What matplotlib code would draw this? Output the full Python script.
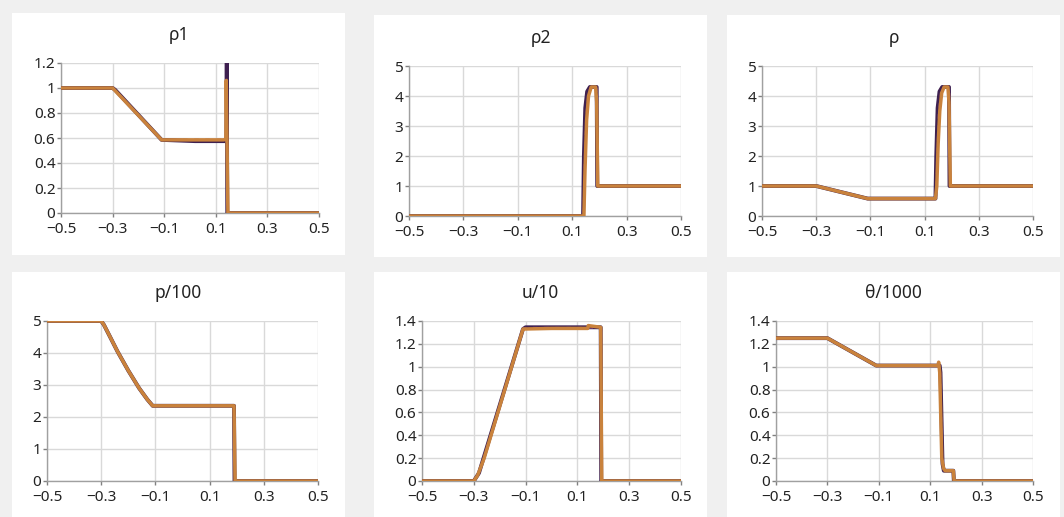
import matplotlib
matplotlib.use("Agg")
import matplotlib.pyplot as plt
from matplotlib.patches import Rectangle
from matplotlib.ticker import FuncFormatter

plt.rcParams['font.family'] = ['Noto Sans', 'DejaVu Sans']

# ---------------- data ----------------
titles = ["ρ1", "ρ2", "ρ", "p/100", "u/10", "θ/1000"]
x_ticks = [-0.5, -0.3, -0.1, 0.1, 0.3, 0.5]
y_ticks_rho1 = [0, 0.2, 0.4, 0.6, 0.8, 1, 1.2]
y_ticks_rho2 = [0, 1, 2, 3, 4, 5]
y_ticks_rho = [0, 1, 2, 3, 4, 5]
y_ticks_p = [0, 1, 2, 3, 4, 5]
y_ticks_u = [0, 0.2, 0.4, 0.6, 0.8, 1, 1.2, 1.4]
y_ticks_theta = [0, 0.2, 0.4, 0.6, 0.8, 1, 1.2, 1.4]

# dark series (reference solution)
rho1_dark_x = [-0.5, -0.3, -0.29, -0.11, 0.02, 0.141, 0.1425, 0.1445, 0.5]
rho1_dark_y = [1, 1, 0.985, 0.585, 0.575, 0.575, 1.25, 0, 0]
rho2_dark_x = [-0.5, 0.14, 0.143, 0.148, 0.155, 0.165, 0.19, 0.192, 0.5]
rho2_dark_y = [0, 0, 2.0, 3.6, 4.15, 4.3, 4.3, 1, 1]
rho_dark_x = [-0.5, -0.3, -0.11, 0.14, 0.143, 0.148, 0.155, 0.165, 0.19, 0.192, 0.5]
rho_dark_y = [1, 1, 0.58, 0.58, 2.0, 3.6, 4.15, 4.3, 4.3, 1, 1]
p_dark_x = [-0.5, -0.3, -0.29, -0.27, -0.24, -0.2, -0.16, -0.13, -0.11, 0.19, 0.192, 0.5]
p_dark_y = [5, 5, 4.88, 4.55, 4.05, 3.45, 2.9, 2.55, 2.35, 2.35, 0, 0]
u_dark_x = [-0.5, -0.3, -0.28, -0.11, -0.1, 0.19, 0.192, 0.5]
u_dark_y = [0, 0, 0.07, 1.33, 1.345, 1.345, 0, 0]
theta_dark_x = [-0.5, -0.3, -0.11, 0.137, 0.14, 0.148, 0.153, 0.19, 0.192, 0.5]
theta_dark_y = [1.25, 1.25, 1.01, 1.01, 0.95, 0.15, 0.09, 0.09, 0, 0]

# dashed series (intermediate resolution)
rho1_mid_x = [-0.5, -0.3, -0.11, 0.141, 0.142, 0.146, 0.5]
rho1_mid_y = [1, 1, 0.585, 0.585, 1.1, 0, 0]
rho2_mid_x = [-0.5, 0.142, 0.146, 0.152, 0.16, 0.168, 0.191, 0.194, 0.5]
rho2_mid_y = [0, 0, 1.8, 3.4, 4.1, 4.3, 4.3, 1, 1]
rho_mid_x = [-0.5, -0.3, -0.11, 0.142, 0.146, 0.152, 0.16, 0.168, 0.191, 0.194, 0.5]
rho_mid_y = [1, 1, 0.58, 0.58, 1.8, 3.4, 4.1, 4.3, 4.3, 1, 1]
p_mid_x = [-0.5, -0.3, -0.29, -0.27, -0.24, -0.2, -0.16, -0.13, -0.11, 0.191, 0.194, 0.5]
p_mid_y = [5, 5, 4.88, 4.55, 4.05, 3.45, 2.9, 2.55, 2.35, 2.35, 0, 0]
u_mid_x = [-0.5, -0.3, -0.28, -0.11, -0.1, 0.191, 0.194, 0.5]
u_mid_y = [0, 0, 0.07, 1.33, 1.34, 1.34, 0, 0]
theta_mid_x = [-0.5, -0.3, -0.11, 0.136, 0.139, 0.147, 0.153, 0.191, 0.194, 0.5]
theta_mid_y = [1.25, 1.25, 1.01, 1.01, 0.95, 0.15, 0.09, 0.09, 0, 0]

# orange series (numerical solution)
rho1_num_x = [-0.5, -0.3, -0.11, 0.13, 0.139, 0.1405, 0.147, 0.5]
rho1_num_y = [1, 1, 0.585, 0.585, 0.59, 1.06, 0, 0]
rho2_num_x = [-0.5, 0.143, 0.147, 0.153, 0.16, 0.17, 0.186, 0.19, 0.194, 0.5]
rho2_num_y = [0, 0, 1.5, 3.2, 4.0, 4.3, 4.3, 3.8, 1, 1]
rho_num_x = [-0.5, -0.3, -0.11, 0.14, 0.145, 0.15, 0.156, 0.163, 0.172, 0.186, 0.19, 0.195, 0.5]
rho_num_y = [1, 1, 0.58, 0.58, 1.0, 2.4, 3.5, 4.1, 4.3, 4.3, 3.8, 1, 1]
p_num_x = [-0.5, -0.3, -0.29, -0.27, -0.24, -0.2, -0.16, -0.13, -0.11, 0.19, 0.194, 0.5]
p_num_y = [5, 5, 4.88, 4.55, 4.05, 3.45, 2.9, 2.55, 2.35, 2.35, 0, 0]
u_num_x = [-0.5, -0.3, -0.285, -0.26, -0.11, -0.105, 0.0, 0.14, 0.142, 0.19, 0.194, 0.5]
u_num_y = [0, 0, 0.05, 0.2, 1.33, 1.33, 1.335, 1.335, 1.36, 1.345, 0, 0]
theta_num_x = [-0.5, -0.3, -0.11, 0.13, 0.133, 0.137, 0.145, 0.152, 0.158, 0.19, 0.193, 0.5]
theta_num_y = [1.25, 1.25, 1.01, 1.01, 1.04, 0.95, 0.2, 0.11, 0.09, 0.09, 0, 0]

panels = [
    (titles[0], y_ticks_rho1, (rho1_dark_x, rho1_dark_y), (rho1_mid_x, rho1_mid_y), (rho1_num_x, rho1_num_y)),
    (titles[1], y_ticks_rho2, (rho2_dark_x, rho2_dark_y), (rho2_mid_x, rho2_mid_y), (rho2_num_x, rho2_num_y)),
    (titles[2], y_ticks_rho, (rho_dark_x, rho_dark_y), (rho_mid_x, rho_mid_y), (rho_num_x, rho_num_y)),
    (titles[3], y_ticks_p, (p_dark_x, p_dark_y), (p_mid_x, p_mid_y), (p_num_x, p_num_y)),
    (titles[4], y_ticks_u, (u_dark_x, u_dark_y), (u_mid_x, u_mid_y), (u_num_x, u_num_y)),
    (titles[5], y_ticks_theta, (theta_dark_x, theta_dark_y), (theta_mid_x, theta_mid_y), (theta_num_x, theta_num_y)),
]

# ---------------- layout (pixels) ----------------
W, H = 1064, 517
boxes = [(12, 13, 345, 255), (374, 15, 707, 257), (727, 15, 1060, 257),
         (12, 272, 345, 517), (374, 272, 707, 517), (727, 272, 1060, 517)]
axes_px = [(61, 63, 319, 213), (409, 66, 681, 216), (762, 66, 1033, 216),
           (47, 321, 318, 481), (422, 321, 681, 481), (776, 321, 1033, 481)]

fig = plt.figure(figsize=(W / 100, H / 100), dpi=100)
fig.patch.set_facecolor('#f0f0f0')

for (x0, y0, x1, y1) in boxes:
    fig.patches.append(Rectangle((x0 / W, 1 - y1 / H), (x1 - x0) / W, (y1 - y0) / H,
                                 transform=fig.transFigure, facecolor='white',
                                 edgecolor='none', zorder=-5))

fmt = FuncFormatter(lambda v, pos: ('{:g}'.format(round(v, 6))).replace('-', '\u2212'))

for (title, yt, dark, mid, num), (x0, y0, x1, y1), box in zip(panels, axes_px, boxes):
    ax = fig.add_axes([x0 / W, 1 - y1 / H, (x1 - x0) / W, (y1 - y0) / H])
    ax.set_zorder(1)
    ax.set_facecolor('none')
    ax.plot(dark[0], dark[1], color='#3e2050', lw=2.8, zorder=3)
    ax.plot(mid[0], mid[1], color='#6a3a6a', lw=1.6, ls=(0, (2, 3)), zorder=4)
    ax.plot(num[0], num[1], color='#c9823c', lw=2.5, zorder=5)
    ax.set_xlim(-0.5, 0.5)
    ax.set_ylim(yt[0], yt[-1])
    ax.set_xticks(x_ticks)
    ax.set_yticks(yt)
    ax.xaxis.set_major_formatter(fmt)
    ax.yaxis.set_major_formatter(fmt)
    ax.grid(True, color='#d9d9d9', lw=1.0, zorder=0)
    ax.set_axisbelow(True)
    for s in ['top', 'right']:
        ax.spines[s].set_visible(False)
    for s in ['left', 'bottom']:
        ax.spines[s].set_color('#a0a0a0')
        ax.spines[s].set_linewidth(1.0)
    ax.tick_params(axis='both', length=3, width=1, color='#808080', labelsize=11,
                   labelcolor='#222222')
    ax.tick_params(axis='x', pad=3.5)
    ax.tick_params(axis='y', pad=1)
    cx = (box[0] + box[2]) / 2
    fig.text(cx / W, 1 - (y0 - 28) / H, title, ha='center', va='center', fontsize=12.5, color='#222222')

fig.savefig('out.png', dpi=100, facecolor=fig.get_facecolor())
